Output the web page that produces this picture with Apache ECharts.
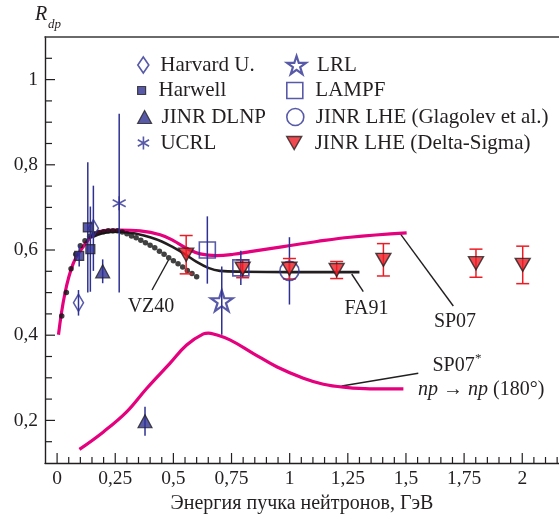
<!DOCTYPE html>
<html>
<head>
<meta charset="utf-8">
<title>R_dp</title>
<script src="https://cdn.jsdelivr.net/npm/echarts@6/dist/echarts.min.js"></script>
<style>
  html, body { margin: 0; padding: 0; background: #fff; }
  #main { width: 559px; height: 519px; }
</style>
</head>
<body>
<div id="main"></div>
<script>
// values: x in GeV, y = R_dp, e = half-length of the error bar
var harvardX = [0.092, 0.156]
var harvardY = [0.476, 0.651]
var harvardE = [0.03, 0.10]

var harwellX = [0.095, 0.132, 0.143]
var harwellY = [0.586, 0.653, 0.602]
var harwellE = [0.025, 0.153, 0.10]

var dlnpX = [0.196, 0.378]
var dlnpY = [0.550, 0.198]
var dlnpE = [0.028, 0.034]

var ucrlX = [0.267]
var ucrlY = [0.710]
var ucrlE = [0.21]

var lrlX = [0.708]
var lrlY = [0.481]
var lrlE = [0.08]

var lampfX = [0.646, 0.790]
var lampfY = [0.600, 0.558]
var lampfE = [0.079, 0.04]

var glagolevX = [0.999]
var glagolevY = [0.551]
var glagolevE = [0.079]

var deltaX = [0.555, 0.798, 0.999, 1.202, 1.403, 1.801, 2.002]
var deltaY = [0.589, 0.556, 0.556, 0.553, 0.577, 0.569, 0.565]
var deltaE = [0.045, 0.021, 0.024, 0.020, 0.038, 0.033, 0.044]

// curves
var sp07X = [0.006, 0.034, 0.070, 0.113, 0.156, 0.214, 0.271, 0.357, 0.443, 0.500, 0.557, 0.615, 0.687, 0.758, 0.830, 0.973, 1.117, 1.260, 1.503]
var sp07Y = [0.401, 0.499, 0.569, 0.608, 0.636, 0.646, 0.647, 0.645, 0.636, 0.622, 0.604, 0.591, 0.587, 0.590, 0.596, 0.608, 0.620, 0.630, 0.640]

var sp07sX = [0.096, 0.199, 0.299, 0.385, 0.485, 0.557, 0.629, 0.650, 0.672, 0.743, 0.844, 0.944, 1.059, 1.145, 1.231, 1.345, 1.489]
var sp07sY = [0.132, 0.173, 0.220, 0.275, 0.334, 0.377, 0.403, 0.405, 0.403, 0.389, 0.357, 0.326, 0.299, 0.285, 0.278, 0.274, 0.274]

var fa91X = [0.15, 0.20, 0.27, 0.35, 0.40, 0.45, 0.50, 0.55, 0.60, 0.65, 0.70, 0.80, 1.00, 1.20, 1.30]
var fa91Y = [0.630, 0.640, 0.643, 0.637, 0.630, 0.620, 0.606, 0.590, 0.572, 0.558, 0.551, 0.549, 0.548, 0.548, 0.548]

var vz40X = [0.02, 0.04, 0.06, 0.08, 0.10, 0.12, 0.14, 0.16, 0.18, 0.20, 0.22, 0.24, 0.26, 0.28, 0.30,
             0.32, 0.34, 0.36, 0.38, 0.40, 0.42, 0.44, 0.46, 0.48, 0.50, 0.52, 0.54, 0.56, 0.58, 0.60]
var vz40Y = [0.445, 0.500, 0.556, 0.590, 0.610, 0.622, 0.632, 0.638, 0.641, 0.643, 0.645, 0.645, 0.645, 0.642, 0.638,
             0.633, 0.629, 0.623, 0.617, 0.611, 0.605, 0.597, 0.590, 0.582, 0.575, 0.568, 0.560, 0.552, 0.545, 0.537]

// ticks
var xMajor = [0, 0.25, 0.5, 0.75, 1, 1.25, 1.5, 1.75, 2]
var yMajor = [0.2, 0.4, 0.6, 0.8, 1]
var xMinor = []
for (var i = 1; i <= 43; i++) if (i % 5) xMinor.push(i * 5 / 100)
var yMinor = []
for (var j = 3; j <= 21; j++) if (j % 4) yMinor.push(j * 5 / 100)

var ink = '#231f20', blue = '#2e3192', red = '#ed1c24', pink = '#e5007e'
var serif = '"Liberation Serif", "Times New Roman", serif'
var clear = 'rgba(0,0,0,0)'
var xMin = -0.052, xMax = 2.158, yMin = 0.1, yMax = 1.1

var DIAMOND = 'path://M0,-8L5.5,0L0,8L-5.5,0Z'
var SQUARE = 'path://M0,0L10,0L10,10L0,10Z'
var TRI_UP = 'path://M7,0L14,13L0,13Z'
var TRI_DOWN = 'path://M0,0L15,0L7.5,13Z'
var ASTER = 'path://M0,-10L0,10M-8.66,-5L8.66,5M-8.66,5L8.66,-5'
var STAR = 'path://M0,-10L2.245,-3.09L9.511,-3.09L3.633,1.18L5.878,8.09L0,3.82L-5.878,8.09L-3.633,1.18L-9.511,-3.09L-2.245,-3.09Z'
var CIRCLE = 'path://M-8,0A8,8 0 1,1 8,0A8,8 0 1,1 -8,0Z'

function zip(xs, ys) {
  return xs.map(function (x, k) { return [x, ys[k]] })
}
function zip3(xs, ys, es) {
  return xs.map(function (x, k) { return [x, ys[k], es[k]] })
}
function comma(v) {
  return String(v).replace('.', ',')
}

function errorBars(xs, ys, es, color, cap) {
  return {
    type: 'custom',
    silent: true,
    z: 3,
    data: zip3(xs, ys, es),
    encode: { x: 0, y: 1 },
    renderItem: function (params, api) {
      var x = api.value(0), y = api.value(1), e = api.value(2)
      var a = api.coord([x, y + e])
      var b = api.coord([x, y - e])
      var st = { stroke: color, lineWidth: 1.5 }
      var kids = [{ type: 'line', shape: { x1: a[0], y1: a[1], x2: b[0], y2: b[1] }, style: st }]
      if (cap) {
        kids.push({ type: 'line', shape: { x1: a[0] - cap, y1: a[1], x2: a[0] + cap, y2: a[1] }, style: st })
        kids.push({ type: 'line', shape: { x1: b[0] - cap, y1: b[1], x2: b[0] + cap, y2: b[1] }, style: st })
      }
      return { type: 'group', children: kids }
    }
  }
}

// marker groups: name, data, symbol, size, style, legend slot
var groups = [
  { name: 'Harvard U.', x: harvardX, y: harvardY, e: harvardE, symbol: DIAMOND, size: [10, 17],
    style: { color: clear, borderColor: blue, borderWidth: 1.6 }, col: 0, row: 0, h: 16 },
  { name: 'Harwell', x: harwellX, y: harwellY, e: harwellE, symbol: SQUARE, size: [9, 9],
    style: { color: blue, borderColor: ink, borderWidth: 1.2 }, col: 0, row: 1, h: 8 },
  { name: 'JINR DLNP', x: dlnpX, y: dlnpY, e: dlnpE, symbol: TRI_UP, size: [14, 13],
    style: { color: blue, borderColor: ink, borderWidth: 1.2 }, col: 0, row: 2, h: 13 },
  { name: 'UCRL', x: ucrlX, y: ucrlY, e: ucrlE, symbol: ASTER, size: [13, 14],
    style: { color: clear, borderColor: blue, borderWidth: 1.6 }, col: 0, row: 3, h: 13 },
  { name: 'LRL', x: lrlX, y: lrlY, e: lrlE, symbol: STAR, size: [22, 21],
    style: { color: clear, borderColor: blue, borderWidth: 2.2 }, col: 1, row: 0, h: 18 },
  { name: 'LAMPF', x: lampfX, y: lampfY, e: lampfE, symbol: SQUARE, size: [16, 16],
    style: { color: clear, borderColor: blue, borderWidth: 1.6 }, col: 1, row: 1, h: 16 },
  { name: 'JINR LHE (Glagolev et al.)', x: glagolevX, y: glagolevY, e: glagolevE, symbol: CIRCLE, size: [19, 19],
    style: { color: clear, borderColor: blue, borderWidth: 1.6 }, col: 1, row: 2, h: 17 },
  { name: 'JINR LHE (Delta-Sigma)', x: deltaX, y: deltaY, e: deltaE, symbol: TRI_DOWN, size: [15, 13],
    style: { color: red, borderColor: ink, borderWidth: 1.4 }, col: 1, row: 3, h: 13 }
]

var legendRows = [64.5, 90, 116.5, 142.5]
var legendCols = [{ left: 137, w: 24 }, { left: 286, w: 31 }]

var series = [
  { type: 'line', data: zip(fa91X, fa91Y), smooth: 0.4, showSymbol: false, silent: true, z: 1,
    lineStyle: { color: ink, width: 2.6 } },
  { type: 'line', data: zip(sp07X, sp07Y), smooth: 0.4, showSymbol: false, silent: true, z: 2,
    lineStyle: { color: pink, width: 3.2 } },
  { type: 'line', data: zip(sp07sX, sp07sY), smooth: 0.4, showSymbol: false, silent: true, z: 2,
    lineStyle: { color: pink, width: 3.2 } },
  { type: 'scatter', data: zip(vz40X, vz40Y), symbol: 'circle', symbolSize: 5.5, silent: true, z: 2,
    itemStyle: { color: '#111' } }
]
groups.forEach(function (g) {
  var isRed = g.style.color === red
  series.push(errorBars(g.x, g.y, g.e, isRed ? red : blue, isRed ? 6.5 : 0))
})
groups.forEach(function (g) {
  series.push({
    name: g.name, type: 'scatter', data: zip(g.x, g.y), symbol: g.symbol, symbolSize: g.size,
    itemStyle: g.style, z: 5, silent: true
  })
})

var legends = groups.map(function (g) {
  var c = legendCols[g.col]
  return {
    data: [g.name], left: c.left, top: legendRows[g.row] - 10, padding: 0, orient: 'vertical',
    itemWidth: c.w, itemHeight: g.h, selectedMode: false, symbolKeepAspect: true,
    itemStyle: g.style,
    textStyle: { fontFamily: serif, fontSize: 21, color: ink, lineHeight: 20 }
  }
})

var axisText = { fontFamily: serif, fontSize: 19.5, color: ink }

var texts = [
  { type: 'text', x: 35, y: 14.5, style: { text: 'R', fontFamily: serif, fontStyle: 'italic', fontSize: 20, fill: ink, align: 'left', verticalAlign: 'middle' } },
  { type: 'text', x: 48, y: 24.5, style: { text: 'dp', fontFamily: serif, fontStyle: 'italic', fontSize: 13, fill: ink, align: 'left', verticalAlign: 'middle' } },

  { type: 'line', shape: { x1: 152, y1: 290, x2: 168.5, y2: 260 }, style: { stroke: ink, lineWidth: 1.4 } },
  { type: 'text', x: 151, y: 307, style: { text: 'VZ40', fontFamily: serif, fontSize: 20, fill: ink, align: 'center', verticalAlign: 'middle' } },

  { type: 'line', shape: { x1: 363.3, y1: 291.7, x2: 351.7, y2: 274 }, style: { stroke: ink, lineWidth: 1.4 } },
  { type: 'text', x: 366.5, y: 309, style: { text: 'FA91', fontFamily: serif, fontSize: 20, fill: ink, align: 'center', verticalAlign: 'middle' } },

  { type: 'line', shape: { x1: 453.3, y1: 306, x2: 400, y2: 233.3 }, style: { stroke: ink, lineWidth: 1.4 } },
  { type: 'text', x: 455, y: 322, style: { text: 'SP07', fontFamily: serif, fontSize: 20, fill: ink, align: 'center', verticalAlign: 'middle' } },

  { type: 'line', shape: { x1: 418.3, y1: 373.3, x2: 341.7, y2: 386 }, style: { stroke: ink, lineWidth: 1.4 } },
  { type: 'text', x: 432.5, y: 366, style: { text: 'SP07', fontFamily: serif, fontSize: 20, fill: ink, align: 'left', verticalAlign: 'middle' } },
  { type: 'text', x: 475, y: 359, style: { text: '*', fontFamily: serif, fontSize: 13, fill: ink, align: 'left', verticalAlign: 'middle' } },
  { type: 'text', x: 418, y: 390, style: {
      text: '{i|np} → {i|np} (180°)', fontFamily: serif, fontSize: 20, fill: ink, align: 'left', verticalAlign: 'middle',
      rich: { i: { fontFamily: serif, fontSize: 20, fontStyle: 'italic', fill: ink } } } }
]

var option = {
  animation: false,
  backgroundColor: '#fff',
  grid: { left: 45, top: 37, width: 514, height: 426 },
  legend: legends,
  xAxis: [
    { type: 'value', min: xMin, max: xMax, position: 'bottom',
      axisLine: { show: true, onZero: false, lineStyle: { color: ink, width: 1.4 } },
      axisTick: { show: false },
      axisLabel: Object.assign({ customValues: xMajor, formatter: comma, margin: 6 }, axisText),
      splitLine: { show: false },
      name: 'Энергия пучка нейтронов, ГэВ', nameLocation: 'middle', nameGap: 33.5,
      nameTextStyle: { fontFamily: serif, fontSize: 20, color: ink, verticalAlign: 'middle' } },
    { type: 'value', min: xMin, max: xMax, position: 'top',
      axisLine: { show: true, onZero: false, lineStyle: { color: '#3a3a3a', width: 1.6 } },
      axisTick: { show: false }, axisLabel: { show: false }, splitLine: { show: false } }
  ],
  yAxis: [
    { type: 'value', min: yMin, max: yMax, position: 'left',
      axisLine: { show: true, onZero: false, lineStyle: { color: ink, width: 1.4 } },
      axisTick: { show: false },
      axisLabel: Object.assign({ customValues: yMajor, formatter: comma, margin: 7 }, axisText),
      splitLine: { show: false } }
  ],
  graphic: texts,
  series: series
}

var chart = echarts.init(document.getElementById('main'))
chart.setOption(option)

// inner tick marks, positioned through the chart's own scales
var tickEls = []
function addTicks(values, dim, len) {
  values.forEach(function (v) {
    var p = chart.convertToPixel({ gridIndex: 0 }, dim === 'x' ? [v, yMin] : [xMin, v])
    var q = dim === 'x' ? [p[0], p[1] - len] : [p[0] + len, p[1]]
    tickEls.push({ type: 'line', shape: { x1: p[0], y1: p[1], x2: q[0], y2: q[1] }, style: { stroke: ink, lineWidth: 1.2 } })
  })
}
addTicks(xMajor, 'x', 10)
addTicks(xMinor, 'x', 6)
addTicks(yMajor, 'y', 10)
addTicks(yMinor, 'y', 7)
chart.setOption({ graphic: texts.concat(tickEls) })

window.onresize = function () { chart.resize() }
</script>
</body>
</html>
